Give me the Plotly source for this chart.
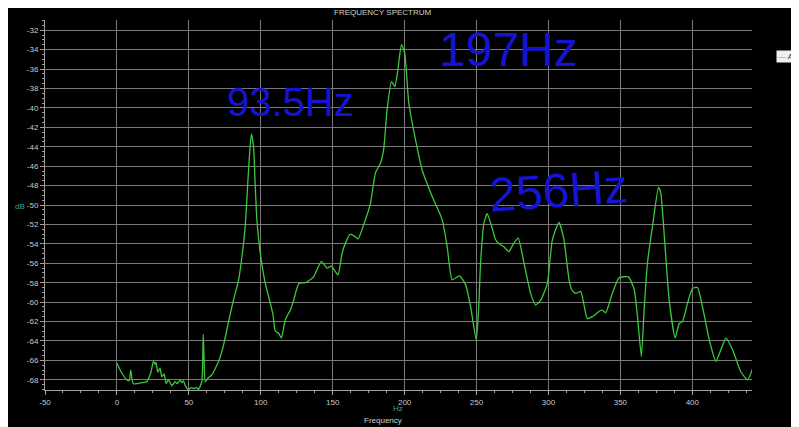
import plotly.graph_objects as go

# ---- data ----
freq_hz = [0, 3, 6.8, 8.5, 9.6, 10.5, 11.5, 14, 17.3, 20.7, 23.5, 25.4, 26.5, 27.2, 28.4, 30, 31.2, 32.8,
           34.2, 35.8, 38.2, 40.5, 42, 44, 45.1, 46.3, 47.5, 49.8, 51.5, 53.3, 55.6, 56.7, 59, 60, 60.6,
           61.4, 63.5, 66, 70.7, 74, 77.6, 81, 84.6, 87, 89.2, 91.5, 93.4, 95, 96, 97.3, 99.7, 103.2,
           106.6, 108.5, 110.1, 112.4, 114.3, 117.1, 120.6, 122.9, 124.5, 126.4, 131, 133.3, 136.8,
           142.1, 146.1, 149.1, 153.7, 156.5, 158.9, 162.3, 165, 167.6, 172.8, 176.3, 179.7, 183.2,
           185.5, 187.8, 190.9, 193.2, 195.3, 197.8, 200.1, 202.9, 207.6, 212.2, 219.1, 226.1, 229.6,
           233.1, 238.2, 242.4, 245.9, 249.8, 251.5, 252.8, 255.1, 257.4, 260.9, 263, 265.6, 269,
           272.5, 276, 279, 283, 287.6, 291.1, 294.6, 299.2, 302.7, 307.3, 310.8, 314.3, 316.5, 319,
           322.4, 327, 330.5, 334, 337.1, 339.8, 344.4, 349.1, 355.6, 359.6, 361.9, 364.6, 366.5,
           368.8, 372.3, 376.5, 378.1, 380.4, 383.9, 388.1, 390.9, 393.2, 396.7, 400.1, 403.6, 407.1,
           411.8, 416.4, 419.9, 423.4, 428, 433.8, 438.5, 442]
level_db = [-66.3, -67.2, -68.0, -68.1, -67.0, -68.0, -68.4, -68.4, -68.3, -68.2, -67.3, -66.1, -66.4,
            -66.2, -67.2, -66.8, -67.7, -67.4, -68.4, -68.0, -68.6, -68.2, -68.4, -68.0, -68.3, -68.1,
            -68.6, -69.0, -68.8, -68.9, -68.8, -69.0, -68.2, -63.3, -66.0, -68.2, -67.8, -67.5, -66.1,
            -64.5, -62.0, -59.8, -57.7, -55.2, -52.2, -46.4, -42.7, -44.0, -47.5, -51.5, -55.0, -58.1,
            -60.1, -61.3, -63.0, -63.2, -63.7, -61.8, -60.8, -59.8, -58.9, -58.1, -58.0, -57.8, -57.4,
            -55.8, -56.5, -56.3, -57.2, -55.0, -53.9, -53.0, -53.2, -53.5, -51.5, -49.8, -46.7, -45.7,
            -44.2, -40.2, -37.3, -37.8, -36.1, -33.5, -34.4, -39.5, -43.3, -46.4, -49.1, -51.5, -54.3,
            -57.7, -57.3, -58.2, -60.5, -63.9, -60.5, -56.0, -51.9, -50.9, -52.4, -53.5, -54.0, -54.3,
            -54.8, -53.9, -53.4, -56.0, -59.1, -60.3, -59.8, -58.1, -53.6, -51.8, -53.6, -57.7, -58.8,
            -59.1, -58.9, -61.7, -61.5, -61.1, -60.8, -61.1, -59.1, -57.5, -57.4, -58.7, -61.5, -65.6,
            -60.8, -56.0, -52.2, -48.2, -48.8, -52.9, -59.8, -63.7, -62.2, -62.0, -60.1, -58.6, -58.5,
            -60.5, -63.9, -66.1, -64.9, -63.7, -64.9, -67.2, -68.0, -66.8]

x_tick_vals = [-50, 0, 50, 100, 150, 200, 250, 300, 350, 400]
x_tick_text = ["-50", "0", "50", "100", "150", "200", "250", "300", "350", "400"]
y_tick_vals = list(range(-68, -31, 2))
y_tick_text = [str(v) for v in y_tick_vals]

series_name = "A"
notes = ["93.5Hz", "197Hz", "256Hz"]

# ---- layout helpers (reference pixel -> paper) ----
L, R, T, B = 45, 752, 20, 390     # plot area in the reference picture
OFF = 8                            # page body margin shifts the figure by 8px
W, H = 799 - OFF, 427 - OFF
def px(x): return (x - L) / (R - L)
def py(y): return (B - y) / (B - T)

fig = go.Figure()
fig.add_trace(go.Scatter(x=freq_hz, y=level_db, mode="lines", name=series_name,
                         line=dict(color="#3cc83c", width=1.3, shape="spline", smoothing=0.5),
                         showlegend=False))

axis_common = dict(showgrid=True, gridcolor="#7a7a7a", gridwidth=1, zeroline=False,
                   showline=True, linecolor="#a0a0a0", linewidth=1,
                   ticks="outside", ticklen=4, tickcolor="#a0a0a0",
                   tickfont=dict(family="Liberation Sans, Arial", size=8, color="#c8c8c8"))

fig.update_xaxes(range=[-50, 441.5], tickmode="array", tickvals=x_tick_vals, ticktext=x_tick_text,
                 minor=dict(dtick=12.5, ticklen=2, tickcolor="#a0a0a0", ticks="outside", showgrid=False),
                 **axis_common)
fig.update_yaxes(range=[-69.05, -30.95], tickmode="array", tickvals=y_tick_vals, ticktext=y_tick_text,
                 minor=dict(dtick=0.5, ticklen=2, tickcolor="#a0a0a0", ticks="outside", showgrid=False),
                 **axis_common)

txt = dict(family="Liberation Sans, Arial", size=8, color="#d0d0d0")
annos = [
    dict(text="FREQUENCY SPECTRUM", x=px(383), y=py(13), font=txt),
    dict(text="Hz", x=px(398), y=py(408), font=dict(family="Liberation Sans, Arial", size=8, color="#3aa0a0")),
    dict(text="Frequency", x=px(383), y=py(420), font=txt),
    dict(text="dB", x=px(20), y=py(206), font=dict(family="Liberation Sans, Arial", size=8, color="#3aa0a0")),
    dict(text="<span style='color:#3cc83c'>—</span> " + series_name, x=px(786), y=py(56.5),
         font=dict(family="Liberation Sans, Arial", size=8, color="#303030"), bgcolor="#f0f0f0",
         borderpad=1),
    dict(text=notes[0], x=px(290), y=py(102), font=dict(family="Liberation Sans, Arial", size=40, color="#1414d2")),
    dict(text=notes[1], x=px(508), y=py(50), font=dict(family="Liberation Sans, Arial", size=48, color="#1414d2")),
    dict(text=notes[2], x=px(558), y=py(190), textangle=-4,
         font=dict(family="Liberation Sans, Arial", size=48, color="#1414d2")),
]
for a in annos:
    fig.add_annotation(xref="paper", yref="paper", showarrow=False, xanchor="center", yanchor="middle", **a)

fig.update_layout(width=W, height=H, paper_bgcolor="#000000", plot_bgcolor="#000000",
                  margin=dict(l=L - OFF, r=W - (R - OFF), t=T - OFF, b=H - (B - OFF), autoexpand=False))

fig.write_html("out.html")
